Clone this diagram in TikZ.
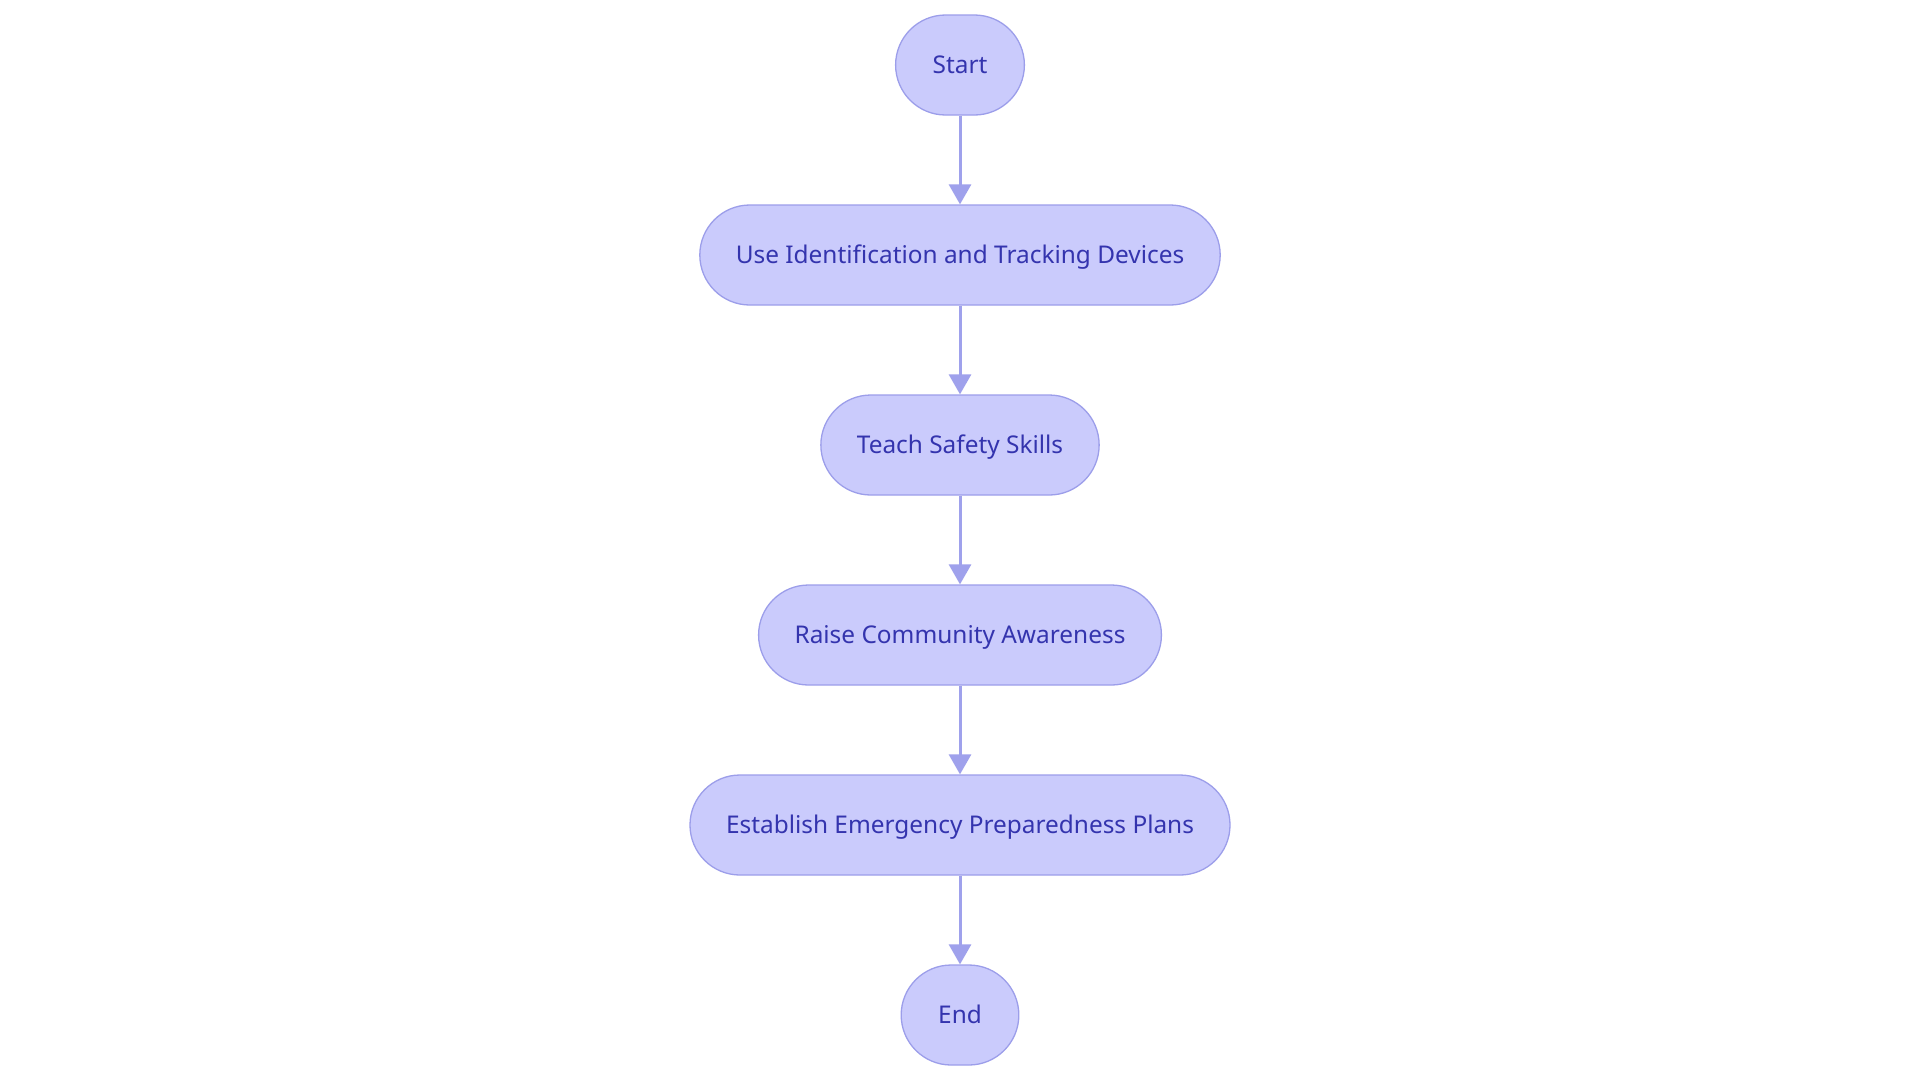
\documentclass[tikz,border=0pt]{standalone}
\usepackage{fontspec}
\setmainfont{Noto Sans}
\usetikzlibrary{arrows.meta,positioning}
\definecolor{boxfill}{HTML}{CACBFC}
\definecolor{boxline}{HTML}{9C9EEA}
\definecolor{boxtext}{HTML}{3434AE}
\definecolor{linkcol}{HTML}{9FA1EC}
\tikzset{
  process/.style={draw=boxline, fill=boxfill, line width=1.3pt, rounded corners=50pt, minimum height=100pt, inner xsep=36pt, text height=17pt, text depth=0pt, text=boxtext, font=\fontsize{24.4}{28}\selectfont},
  terminal/.style={process, inner xsep=37pt},
  link/.style={-{Triangle[width=22pt,length=20pt]}, line width=3pt, linkcol}
}
\begin{document}
\begin{tikzpicture}[x=1pt,y=1pt]
  \fill[white] (0,0) rectangle (1920,-1080);
  \node[terminal] (start) at (960,-65) {Start};
  \node[process] (track) at (960,-255) {Use Identification and Tracking Devices};
  \node[process] (teach) at (960,-445) {Teach Safety Skills};
  \node[process] (aware) at (960,-635) {Raise Community Awareness};
  \node[process] (plans) at (960,-825) {Establish Emergency Preparedness Plans};
  \node[terminal] (end) at (960,-1015) {End};
  \draw[link] (start) -- (track);
  \draw[link] (track) -- (teach);
  \draw[link] (teach) -- (aware);
  \draw[link] (aware) -- (plans);
  \draw[link] (plans) -- (end);
\end{tikzpicture}
\end{document}
